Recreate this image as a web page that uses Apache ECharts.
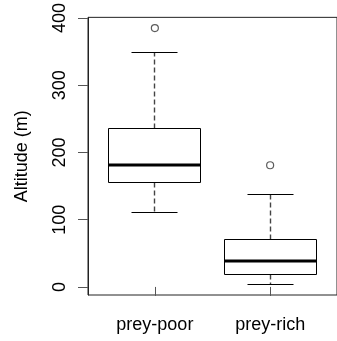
<!DOCTYPE html>
<html>
<head>
<meta charset="utf-8">
<script src="https://cdn.jsdelivr.net/npm/echarts@6/dist/echarts.min.js"></script>
<style>html,body{margin:0;padding:0;background:#fff;}#c{width:337px;height:341px;}</style>
</head>
<body>
<div id="c"></div>
<script>
const categories = ['prey-poor', 'prey-rich'];
const whiskerLow = [110, 4];
const quartile1 = [155, 19];
const medians = [182, 39];
const quartile3 = [235, 70];
const whiskerHigh = [348, 138];
const outlierCat = [1, 2];
const outlierVal = [385, 181];
const yTicks = [0, 100, 200, 300, 400];

const boxData = categories.map((c, i) => [i + 1, whiskerLow[i], quartile1[i], medians[i], quartile3[i], whiskerHigh[i]]);
const outData = outlierCat.map((c, i) => [c, outlierVal[i]]);

const FONT = "'Liberation Sans', Arial, sans-serif";
const chart = echarts.init(document.getElementById('c'));
const r = v => Math.round(v - 0.5) + 0.5;

chart.setOption({
  animation: false,
  backgroundColor: '#fff',
  grid: { left: 88, top: 16, width: 257, height: 279, show: true, borderColor: '#222', borderWidth: 1, backgroundColor: 'transparent' },
  xAxis: {
    type: 'value', min: 0.42, max: 2.58,
    axisLine: { show: false },
    splitLine: { show: false },
    axisTick: { show: true, customValues: [1, 2], length: 9, lineStyle: { color: '#555' } },
    axisLabel: { customValues: [1, 2], formatter: v => categories[Math.round(v) - 1] || '', margin: 21, fontSize: 18, color: '#000', fontFamily: FONT }
  },
  yAxis: {
    type: 'value', min: -12, max: 401,
    name: 'Altitude (m)', nameLocation: 'middle', nameRotate: 90, nameGap: 57,
    nameTextStyle: { fontSize: 18, color: '#000', fontFamily: FONT },
    axisLine: { show: true, lineStyle: { color: '#222' } },
    splitLine: { show: false },
    axisTick: { show: true, customValues: yTicks, length: 10, lineStyle: { color: '#555' } },
    axisLabel: { customValues: yTicks, rotate: 90, margin: 19, fontSize: 18, color: '#000', fontFamily: FONT }
  },
  series: [
    {
      type: 'custom',
      data: boxData,
      encode: { x: 0, y: [1, 2, 3, 4, 5] },
      renderItem: function (params, api) {
        const x = api.value(0);
        const c = v => api.coord([x, v]);
        const cx = r(c(0)[0]);
        const yMin = r(c(api.value(1))[1]);
        const yQ1 = r(c(api.value(2))[1]);
        const yMed = Math.round(c(api.value(3))[1]);
        const yQ3 = r(c(api.value(4))[1]);
        const yMax = r(c(api.value(5))[1]);
        const half = Math.round(api.size([0.8, 0])[0] / 2);
        const cap = Math.round(half / 2);
        const solid = { stroke: '#000', lineWidth: 1, fill: null };
        const dashed = { stroke: '#444', lineWidth: 1.4, lineDash: [5, 3] };
        return {
          type: 'group',
          children: [
            { type: 'line', shape: { x1: cx, y1: yQ3, x2: cx, y2: yMax }, style: dashed },
            { type: 'line', shape: { x1: cx, y1: yQ1, x2: cx, y2: yMin }, style: dashed },
            { type: 'line', shape: { x1: cx - cap, y1: yMax, x2: cx + cap, y2: yMax }, style: solid },
            { type: 'line', shape: { x1: cx - cap, y1: yMin, x2: cx + cap, y2: yMin }, style: solid },
            { type: 'rect', shape: { x: cx - half, y: yQ3, width: 2 * half, height: yQ1 - yQ3 }, style: { stroke: '#000', lineWidth: 1, fill: '#fff' } },
            { type: 'line', shape: { x1: cx - half, y1: yMed, x2: cx + half, y2: yMed }, style: { stroke: '#000', lineWidth: 3 } }
          ]
        };
      }
    },
    {
      type: 'scatter',
      data: outData,
      symbol: 'circle',
      symbolSize: 7,
      itemStyle: { color: '#fff', borderColor: '#333', borderWidth: 1.2 }
    }
  ]
});
</script>
</body>
</html>
